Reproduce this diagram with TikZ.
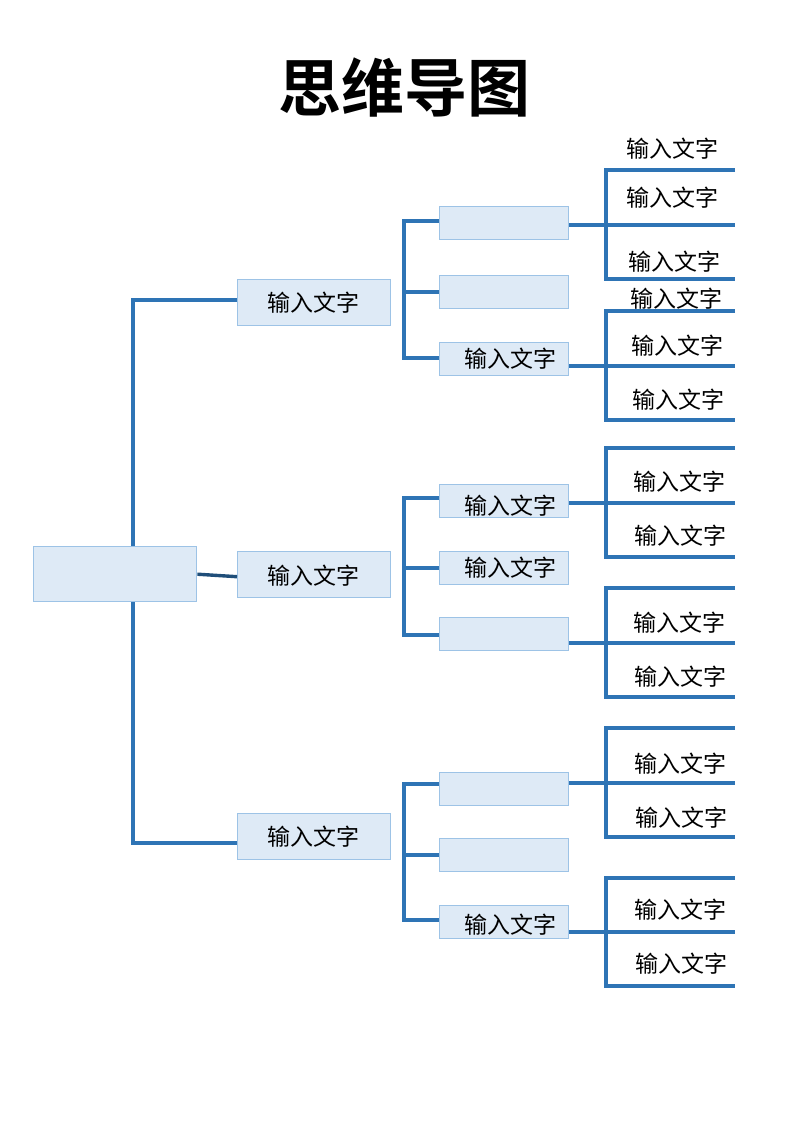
\documentclass[tikz,border=0pt]{standalone}
\usepackage{fontspec}
\newfontfamily\cjk{Noto Sans CJK SC}[BoldFont=* Bold]
\definecolor{lineblue}{HTML}{2E74B5}
\definecolor{darkline}{HTML}{1F4E79}
\definecolor{boxfill}{HTML}{DEEAF6}
\definecolor{boxline}{HTML}{9DC3E6}
\tikzset{
  box/.style={draw=boxline, fill=boxfill, line width=1.4pt, inner sep=0pt, anchor=north west},
  cbox/.style={box, minimum width=163pt, minimum height=55pt},
  lonebox/.style={box, minimum width=153pt, minimum height=46pt},
  ltwobox/.style={box, minimum width=129pt, minimum height=33pt},
  txt/.style={font=\cjk\fontsize{23}{23}\selectfont, inner sep=0pt, text=black},
  ln/.style={draw=lineblue, line width=3.4pt},
  dk/.style={draw=darkline, line width=3.4pt}
}
\begin{document}
\begin{tikzpicture}[x=1pt,y=-1pt]
\useasboundingbox (0,0) rectangle (800,1131);
\node[font=\cjk\bfseries\fontsize{63}{63}\selectfont, inner sep=0pt] (title) at (404,88) {思维导图};

% central and level-1 boxes
\node[cbox] (c) at (33,546) {};
\node[lonebox] (b1) at (237,279) {};
\node[lonebox] (b2) at (237,551) {};
\node[lonebox] (b3) at (237,813) {};
\node[txt] (t1) at (313,303) {输入文字};
\node[txt] (t2) at (313,576) {输入文字};
\node[txt] (t3) at (313,837) {输入文字};

% trunk
\coordinate (tka) at (133,300);
\coordinate (tkb) at (133,843);
\draw[ln] (tka |- c.north) -- (tka) -- (b1.west |- tka);
\draw[ln] (tkb |- c.south) -- (tkb) -- (b3.west |- tkb);
\draw[dk] (c.east) -- ([yshift=-2pt]b2.west);

% level-2 boxes
\node[ltwobox] (g1a) at (439,206) {};
\node[ltwobox] (g1b) at (439,275) {};
\node[ltwobox] (g1c) at (439,342) {};
\node[ltwobox] (g2a) at (439,484) {};
\node[ltwobox] (g2b) at (439,551) {};
\node[ltwobox] (g2c) at (439,617) {};
\node[ltwobox] (g3a) at (439,772) {};
\node[ltwobox] (g3b) at (439,838) {};
\node[ltwobox] (g3c) at (439,905) {};
\node[txt] (tg1c) at (510,359) {输入文字};
\node[txt] (tg2a) at (510,506) {输入文字};
\node[txt] (tg2b) at (510,568) {输入文字};
\node[txt] (tg3c) at (510,925) {输入文字};

% level-2 brackets
\coordinate (k1t) at (404,221); \coordinate (k1m) at (404,292); \coordinate (k1b) at (404,358);
\draw[ln] (g1a.west |- k1t) -- (k1t) -- (k1b) -- (g1c.west |- k1b);
\draw[ln] (k1m) -- (g1b.west |- k1m);
\coordinate (k2t) at (404,498); \coordinate (k2m) at (404,568); \coordinate (k2b) at (404,635);
\draw[ln] (g2a.west |- k2t) -- (k2t) -- (k2b) -- (g2c.west |- k2b);
\draw[ln] (k2m) -- (g2b.west |- k2m);
\coordinate (k3t) at (404,784); \coordinate (k3m) at (404,855); \coordinate (k3b) at (404,920);
\draw[ln] (g3a.west |- k3t) -- (k3t) -- (k3b) -- (g3c.west |- k3b);
\draw[ln] (k3m) -- (g3b.west |- k3m);

% level-3 brackets
\newcommand{\lthree}[5]{%
  \coordinate (#1t) at (606,#3); \coordinate (#1m) at (735,#4); \coordinate (#1b) at (606,#5);
  \draw[ln] (#2.east |- #1m) -- (#1m);
  \draw[ln] (735,#3) -- (#1t) -- (#1b) -- (735,#5);
}
\lthree{ra}{g1a}{170}{225}{279}
\lthree{rc}{g1c}{311}{366}{420}
\lthree{rd}{g2a}{448}{503}{557}
\lthree{re}{g2c}{588}{643}{697}
\lthree{rf}{g3a}{728}{783}{837}
\lthree{rg}{g3c}{878}{932}{986}

% level-3 labels
\node[txt] (l1) at (672,149) {输入文字};
\node[txt] (l2) at (672,198) {输入文字};
\node[txt] (l3) at (674,262) {输入文字};
\node[txt] (l4) at (676,299) {输入文字};
\node[txt] (l5) at (677,346) {输入文字};
\node[txt] (l6) at (678,400) {输入文字};
\node[txt] (l7) at (679,482) {输入文字};
\node[txt] (l8) at (680,536) {输入文字};
\node[txt] (l9) at (679,623) {输入文字};
\node[txt] (l10) at (680,677) {输入文字};
\node[txt] (l11) at (680,764) {输入文字};
\node[txt] (l12) at (681,818) {输入文字};
\node[txt] (l13) at (680,910) {输入文字};
\node[txt] (l14) at (681,964) {输入文字};
\end{tikzpicture}
\end{document}
